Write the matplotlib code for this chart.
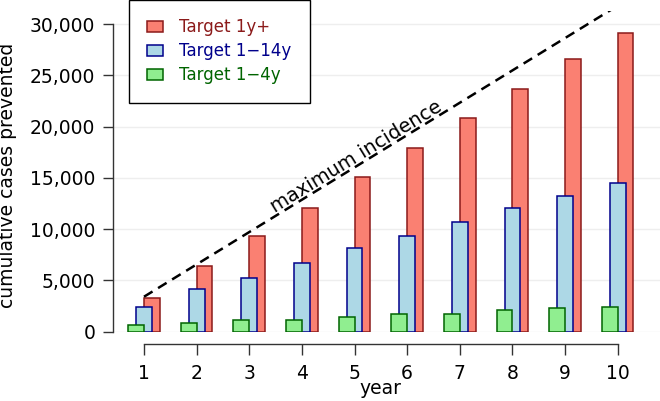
import matplotlib
matplotlib.use("Agg")
import matplotlib.pyplot as plt
from matplotlib.ticker import FuncFormatter

# values
years = [1, 2, 3, 4, 5, 6, 7, 8, 9, 10]
target_1y_plus = [3300, 6450, 9330, 12090, 15110, 17940, 20870, 23690, 26590, 29150]
target_1_14y = [2380, 4130, 5240, 6700, 8130, 9300, 10670, 12090, 13200, 14470]
target_1_4y = [620, 880, 1110, 1170, 1460, 1730, 1760, 2090, 2340, 2410]
max_inc_years = [1, 10]
max_inc = [3410, 31780]
labels = ["Target 1y+", "Target 1\u221214y", "Target 1\u22124y"]

plt.rcParams['font.family'] = ['DejaVu Sans']

W, H = 660, 401
fig = plt.figure(figsize=(W / 100, H / 100), dpi=100)

# axes placed in pixel terms
ax_left, ax_right = 113, 660
ax_top, ax_bot = 10.7, 331.7
ax = fig.add_axes([ax_left / W, (H - ax_bot) / H, (ax_right - ax_left) / W, (ax_bot - ax_top) / H])

px_per_year = 52.63
x0_px = 144
ax.set_xlim(1 - (x0_px - ax_left) / px_per_year, 1 + (ax_right - x0_px) / px_per_year)
ax.set_ylim(0, 31298)

w = 0.3
off = 0.15
ax.bar([y + off for y in years], target_1y_plus, width=w, color="#FA8072",
       edgecolor="#8B1A1A", linewidth=1.1, zorder=2, label=labels[0])
ax.bar(years, target_1_14y, width=w, color="#ADD8E6",
       edgecolor="#00008B", linewidth=1.1, zorder=3, label=labels[1])
ax.bar([y - off for y in years], target_1_4y, width=w, color="#90EE90",
       edgecolor="#006400", linewidth=1.1, zorder=4, label=labels[2])

ax.plot(max_inc_years, max_inc, color="black", lw=1.8, linestyle=(0, (4, 2.6)), zorder=5)
ax.text(5.03, 17030, "maximum incidence", rotation=31.5, ha="center", va="center",
        fontsize=14, rotation_mode="anchor")

# grid
ax.set_axisbelow(True)
ax.yaxis.grid(True, color="#EEEEEE", lw=1)
ax.set_yticks(range(0, 30001, 5000))
ax.yaxis.set_major_formatter(FuncFormatter(lambda v, p: "{:,}".format(int(v))))
ax.set_xticks(years)

for s in ["top", "right"]:
    ax.spines[s].set_visible(False)
ax.spines["left"].set_bounds(0, 30000)
ax.spines["bottom"].set_bounds(1, 10)
ax.spines["bottom"].set_position(("outward", 8.9))
for s in ["left", "bottom"]:
    ax.spines[s].set_color("#333333")
    ax.spines[s].set_linewidth(1.0)
ax.tick_params(axis="y", length=7.2, width=1, color="#333333", pad=5.5, labelsize=13.5)
ax.tick_params(axis="x", length=8, width=1, color="#333333", pad=6, labelsize=13.5)

fig.text(380 / W, 1 - 389 / H, "year", ha="center", va="center", fontsize=13.5)
fig.text(8 / W, 1 - 175 / H, "cumulative cases prevented", ha="center", va="center",
         rotation=90, fontsize=13.5)

leg = ax.legend(loc="upper left", bbox_to_anchor=(129 / W, 1.0), bbox_transform=fig.transFigure,
                borderaxespad=0, fontsize=12, frameon=True, fancybox=False,
                handlelength=0.92, handleheight=0.68, handletextpad=1.0,
                borderpad=1.1, labelspacing=0.36)
leg.get_frame().set_edgecolor("black")
leg.get_frame().set_linewidth(1.0)
leg.get_frame().set_alpha(1)
for t, c in zip(leg.get_texts(), ["#8B1A1A", "#00008B", "#006400"]):
    t.set_color(c)

fig.savefig("out.png", dpi=100)
